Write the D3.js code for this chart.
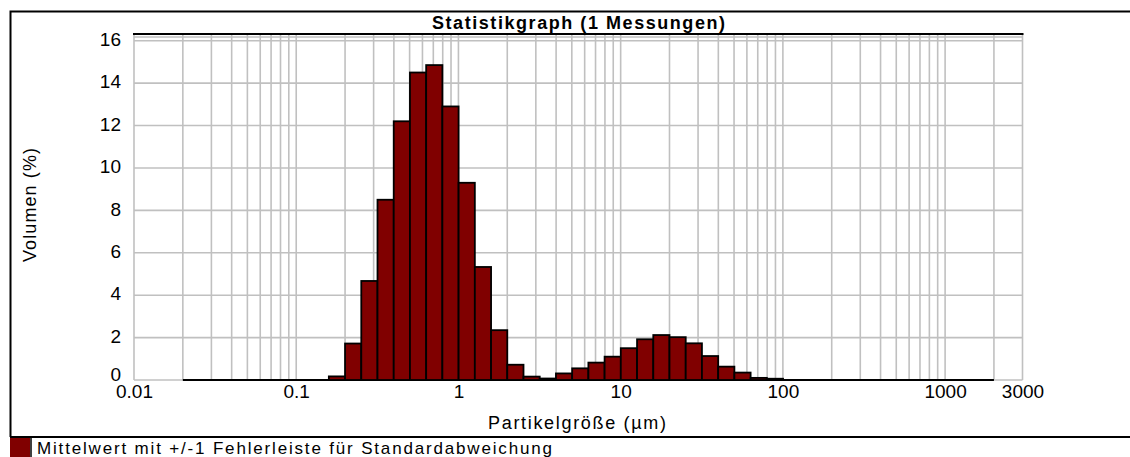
<!DOCTYPE html>
<html>
<head>
<meta charset="utf-8">
<script src="https://cdn.jsdelivr.net/npm/d3@7"></script>
<style>
  body { margin: 0; background: #fff; }
  text { font-family: "Liberation Sans", Arial, sans-serif; }
</style>
</head>
<body>
<div id="chart"></div>
<script>
// size class edges (um), 50 classes
var sizeEdges = [0.0200, 0.0252, 0.0317, 0.0399, 0.0502, 0.0632, 0.0796, 0.1002, 0.1262, 0.1589,
  0.2000, 0.2518, 0.3170, 0.3991, 0.5024, 0.6325, 0.7962, 1.002, 1.262, 1.589,
  2.000, 2.518, 3.170, 3.991, 5.024, 6.325, 7.962, 10.02, 12.62, 15.89,
  20.00, 25.18, 31.70, 39.91, 50.24, 63.25, 79.62, 100.2, 126.2, 158.9,
  200.0, 251.8, 317.0, 399.1, 502.4, 632.5, 796.2, 1002, 1262, 1589, 2000];

// volume % per class
var volume = [0, 0, 0, 0, 0, 0, 0, 0, 0, 0.17,
  1.72, 4.67, 8.5, 12.2, 14.5, 14.85, 12.9, 9.3, 5.33, 2.35,
  0.72, 0.16, 0.07, 0.31, 0.55, 0.82, 1.1, 1.5, 1.92, 2.12,
  2.02, 1.73, 1.13, 0.63, 0.35, 0.1, 0.06, 0, 0, 0,
  0, 0, 0, 0, 0, 0, 0, 0, 0, 0];

var xTickValues = [0.01, 0.1, 1, 10, 100, 1000, 3000];
var yTickValues = [0, 2, 4, 6, 8, 10, 12, 14, 16];

var title = "Statistikgraph (1 Messungen)";
var xLabel = "Partikelgröße (µm)";
var yLabel = "Volumen (%)";
var legendLabel = "Mittelwert mit +/-1 Fehlerleiste für Standardabweichung";

var width = 1130, height = 457;
var barColor = "#800000", gridColor = "#c0c0c0";

var svg = d3.select("#chart").append("svg")
    .attr("width", width)
    .attr("height", height);

var x = d3.scaleLog().domain([0.01, 3000]).range([134, 1022.5]);
var y = d3.scaleLinear().domain([0, 16]).range([380, 40.7]);
var plotTop = 34;

// outer frame
svg.append("path")
    .attr("d", "M10.5,437 L10.5,11.5 L1131,11.5")
    .attr("fill", "none").attr("stroke", "#000").attr("stroke-width", 2);
svg.append("line")
    .attr("x1", 10).attr("x2", 1131).attr("y1", 437).attr("y2", 437)
    .attr("stroke", "#000").attr("stroke-width", 2);

// grid
var minor = [];
[0.01, 0.1, 1, 10, 100, 1000].forEach(function(d) {
  for (var m = 1; m <= 9; m++) if (d * m <= 3000) minor.push(d * m);
});

svg.append("g").selectAll("line")
    .data(minor)
    .enter().append("line")
    .attr("x1", function(d) { return x(d); })
    .attr("x2", function(d) { return x(d); })
    .attr("y1", plotTop).attr("y2", y(0))
    .attr("stroke", gridColor).attr("stroke-width", 1.6);

svg.append("g").selectAll("line")
    .data(yTickValues)
    .enter().append("line")
    .attr("x1", x(0.01)).attr("x2", x(3000))
    .attr("y1", function(d) { return y(d); })
    .attr("y2", function(d) { return y(d); })
    .attr("stroke", gridColor).attr("stroke-width", 1.6);

svg.append("line")
    .attr("x1", x(0.01)).attr("x2", x(3000))
    .attr("y1", 37).attr("y2", 37)
    .attr("stroke", gridColor).attr("stroke-width", 1.6);

svg.append("line")
    .attr("x1", x(0.01) - 1).attr("x2", x(3000) + 1)
    .attr("y1", plotTop).attr("y2", plotTop)
    .attr("stroke", "#000").attr("stroke-width", 2);

// bars
var bins = volume.map(function(v, i) {
  return {x0: sizeEdges[i], x1: sizeEdges[i + 1], v: v};
});

svg.append("line")
    .attr("x1", x(sizeEdges[0])).attr("x2", x(sizeEdges[sizeEdges.length - 1]))
    .attr("y1", y(0)).attr("y2", y(0))
    .attr("stroke", "#000").attr("stroke-width", 2);

svg.append("g").selectAll("rect")
    .data(bins.filter(function(d) { return d.v > 0; }))
    .enter().append("rect")
    .attr("x", function(d) { return x(d.x0); })
    .attr("width", function(d) { return x(d.x1) - x(d.x0); })
    .attr("y", function(d) { return y(d.v); })
    .attr("height", function(d) { return y(0) - y(d.v); })
    .attr("fill", barColor)
    .attr("stroke", "#000").attr("stroke-width", 1.8);

// axes labels
var xAxis = d3.axisBottom(x).tickValues(xTickValues)
    .tickFormat(function(d) { return String(d); })
    .tickSize(0).tickPadding(3);
svg.append("g")
    .attr("transform", "translate(0," + (y(0) + 1) + ")")
    .call(xAxis)
    .call(function(g) { g.select(".domain").remove(); })
    .selectAll("text")
    .attr("font-size", 19).attr("fill", "#000")
    .style("font-family", "Liberation Sans, Arial, sans-serif");

var yAxis = d3.axisLeft(y).tickValues(yTickValues)
    .tickSize(0).tickPadding(13);
svg.append("g")
    .attr("transform", "translate(" + x(0.01) + ",0)")
    .call(yAxis)
    .call(function(g) { g.select(".domain").remove(); })
    .selectAll("text")
    .attr("font-size", 19).attr("fill", "#000")
    .attr("dy", function(d) { return d === 0 ? "0.0em" : "0.25em"; })
    .style("font-family", "Liberation Sans, Arial, sans-serif");

svg.append("text")
    .attr("x", 578.5).attr("y", 29)
    .attr("text-anchor", "middle")
    .attr("font-size", 18).attr("font-weight", "bold")
    .attr("textLength", 293).attr("lengthAdjust", "spacing")
    .text(title);

svg.append("text")
    .attr("x", 577).attr("y", 429)
    .attr("text-anchor", "middle")
    .attr("font-size", 18)
    .attr("textLength", 178).attr("lengthAdjust", "spacing")
    .text(xLabel);

svg.append("text")
    .attr("transform", "translate(36,205) rotate(-90)")
    .attr("text-anchor", "middle")
    .attr("font-size", 18)
    .attr("textLength", 114).attr("lengthAdjust", "spacing")
    .text(yLabel);

// legend
svg.append("rect")
    .attr("x", 10).attr("y", 438).attr("width", 20).attr("height", 19)
    .attr("fill", barColor);
svg.append("line")
    .attr("x1", 31).attr("x2", 31).attr("y1", 438).attr("y2", 457)
    .attr("stroke", "#000").attr("stroke-width", 1.5);
svg.append("text")
    .attr("x", 37).attr("y", 454)
    .attr("font-size", 17)
    .attr("textLength", 515).attr("lengthAdjust", "spacing")
    .text(legendLabel);
</script>
</body>
</html>
